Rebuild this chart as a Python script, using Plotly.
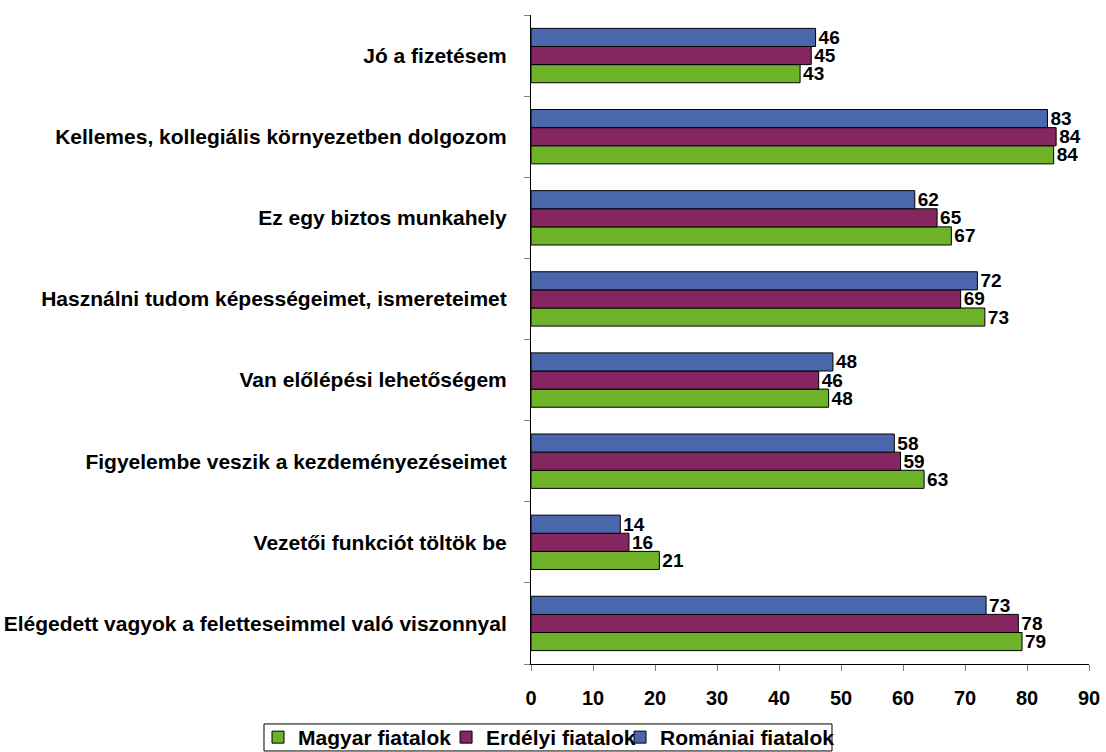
import plotly.graph_objects as go

categories = [
    "Jó a fizetésem",
    "Kellemes, kollegiális környezetben dolgozom",
    "Ez egy biztos munkahely",
    "Használni tudom képességeimet, ismereteimet",
    "Van előlépési lehetőségem",
    "Figyelembe veszik a kezdeményezéseimet",
    "Vezetői funkciót töltök be",
    "Elégedett vagyok a feletteseimmel való viszonnyal",
]
series_names = ["Magyar fiatalok", "Erdélyi fiatalok", "Romániai fiatalok"]
magyar = [43.4, 84.3, 67.8, 73.2, 48.0, 63.4, 20.7, 79.2]
erdelyi = [45.2, 84.7, 65.5, 69.3, 46.4, 59.6, 15.8, 78.6]
romaniai = [45.9, 83.3, 61.9, 72.0, 48.7, 58.6, 14.4, 73.4]
magyar_labels = [43, 84, 67, 73, 48, 63, 21, 79]
erdelyi_labels = [45, 84, 65, 69, 46, 59, 16, 78]
romaniai_labels = [46, 83, 62, 72, 48, 58, 14, 73]
x_ticks = [0, 10, 20, 30, 40, 50, 60, 70, 80, 90]

colors = ["#6DB229", "#862660", "#4A67AD"]
FONT = "Arial, Liberation Sans, sans-serif"
legend_ids = ["legend", "legend2", "legend3"]
legend_x = [0.2333, 0.4033, 0.5606]

fig = go.Figure()
for name, vals, labs, col, lid in zip(series_names,
                                      [magyar, erdelyi, romaniai],
                                      [magyar_labels, erdelyi_labels, romaniai_labels],
                                      colors, legend_ids):
    fig.add_trace(go.Bar(
        y=categories[::-1], x=vals[::-1], name=name, orientation="h",
        marker=dict(color=col, line=dict(color="black", width=1)),
        text=[str(v) for v in labs[::-1]], textposition="outside",
        constraintext="none",
        textfont=dict(family=FONT, size=19, color="black", weight="bold"),
        cliponaxis=False, legend=lid,
    ))

legend_style = dict(
    orientation="h", xref="container", yref="container",
    xanchor="left", y=0.0193, yanchor="middle",
    bgcolor="rgba(0,0,0,0)", borderwidth=0,
    font=dict(family=FONT, size=21, color="black", weight="bold"),
    itemwidth=30,
)

fig.update_layout(
    width=1106, height=752,
    margin=dict(l=531, r=17, t=15, b=88),
    paper_bgcolor="white", plot_bgcolor="white",
    barmode="group", bargap=0.33, bargroupgap=0,
    font=dict(family=FONT, size=16, color="black"),
    showlegend=True,
    legend=dict(x=legend_x[0], **legend_style),
    legend2=dict(x=legend_x[1], **legend_style),
    legend3=dict(x=legend_x[2], **legend_style),
    shapes=[dict(
        type="rect", xref="paper", yref="paper",
        x0=-0.4785, x1=0.5394, y0=-0.134, y1=-0.0924,
        line=dict(color="black", width=1), fillcolor="rgba(0,0,0,0)",
        layer="above",
    )],
    uniformtext=dict(mode=False),
)
fig.update_xaxes(
    range=[0, 90], tickvals=x_ticks, ticktext=[str(t) for t in x_ticks],
    showgrid=False, zeroline=False, automargin=False,
    showline=True, linecolor="black", linewidth=1,
    ticks="outside", ticklen=6, tickcolor="#808080",
    tickfont=dict(family=FONT, size=20, color="black", weight="bold"),
    ticklabelstandoff=10,
)
fig.update_yaxes(
    showgrid=False, zeroline=False, automargin=False,
    showline=True, linecolor="black", linewidth=1,
    ticks="outside", ticklen=6, tickcolor="#808080", tickson="boundaries",
    tickfont=dict(family=FONT, size=21, color="black", weight="bold"),
    ticklabelstandoff=19,
)

fig.write_html(
    "out.html",
    config={"displayModeBar": False},
    post_script="document.body.style.margin='0';document.body.style.overflow='hidden';",
)
